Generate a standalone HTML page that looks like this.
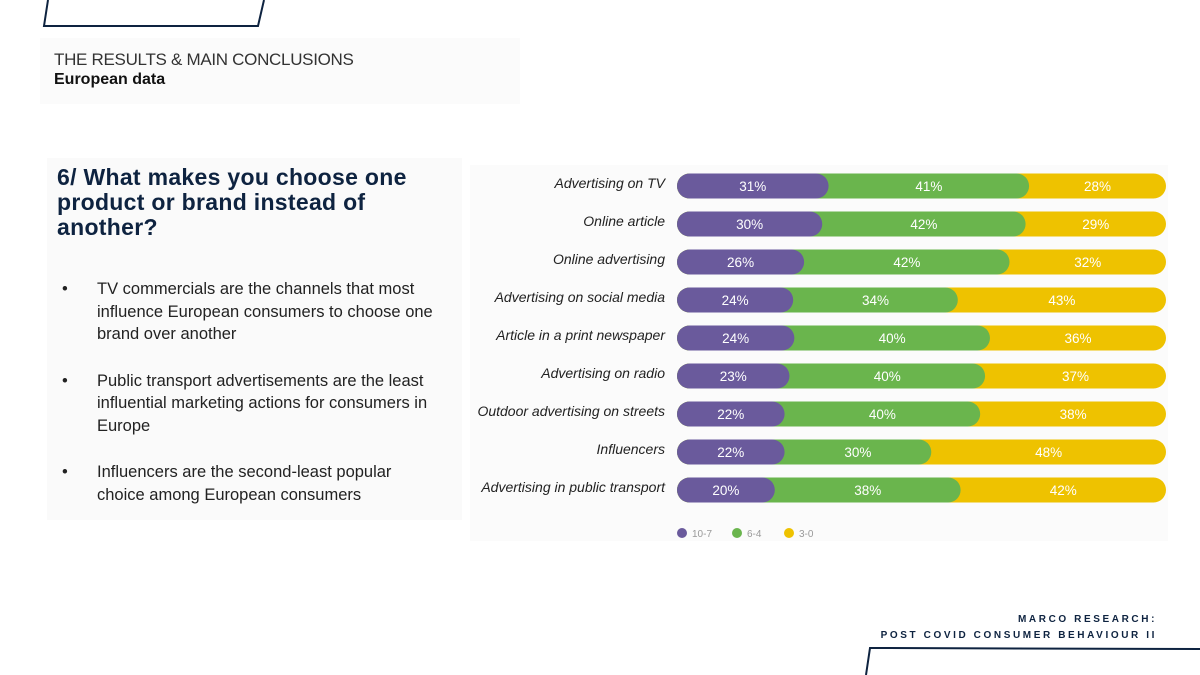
<!DOCTYPE html>
<html><head><meta charset="utf-8"><style>
body{margin:0;width:1200px;height:675px;background:#fff;position:relative;overflow:hidden;font-family:"Liberation Sans",sans-serif}
.abs{position:absolute}
</style></head><body>
<svg class="abs" style="left:0;top:0" width="1200" height="675">
<path d="M48,0 L44,26 L258,26 L264,0" fill="none" stroke="#0e2340" stroke-width="2"/>
<path d="M1200,649 L870,648 L866,675" fill="none" stroke="#0e2340" stroke-width="2"/>
</svg>
<div class="abs" style="left:40px;top:38px;width:480px;height:66px;background:#fbfbfb"></div>
<div class="abs" style="left:54px;top:50px;font-size:17px;color:#333;font-weight:300;letter-spacing:-0.3px">THE RESULTS &amp; MAIN CONCLUSIONS</div>
<div class="abs" style="left:54px;top:71px;font-size:16px;font-weight:bold;color:#111">European data</div>
<div class="abs" style="left:47px;top:158px;width:415px;height:362px;background:#fafafa"></div>
<div class="abs" style="left:57px;top:165px;width:400px;font-size:23px;font-weight:bold;color:#0e2340;line-height:25px;letter-spacing:0.3px">6/ What makes you choose one product or brand instead of another?</div>
<div class="abs" style="left:62px;top:278px;width:378px;font-size:16.5px;color:#222;line-height:22.5px">
<div style="position:relative;padding-left:35px;margin-bottom:24px"><span style="position:absolute;left:0">•</span>TV commercials are the channels that most influence European consumers to choose one brand over another</div>
<div style="position:relative;padding-left:35px;margin-bottom:24px"><span style="position:absolute;left:0">•</span>Public transport advertisements are the least influential marketing actions for consumers in Europe</div>
<div style="position:relative;padding-left:35px"><span style="position:absolute;left:0">•</span>Influencers are the second-least popular choice among European consumers</div>
</div>
<div class="abs" style="left:470px;top:165px;width:698px;height:376px;background:#fbfbfb"></div>
<svg id="chart" class="abs" style="left:0;top:0" width="1200" height="675"></svg>
<div class="abs" style="right:43px;top:612px;text-align:right;font-size:10px;font-weight:bold;letter-spacing:2.6px;color:#0e2340;line-height:16px">MARCO RESEARCH:<br>POST COVID CONSUMER BEHAVIOUR II</div>
<script>
const categories=["Advertising on TV","Online article","Online advertising","Advertising on social media","Article in a print newspaper","Advertising on radio","Outdoor advertising on streets","Influencers","Advertising in public transport"];
const high=[31,30,26,24,24,23,22,22,20];
const mid=[41,42,42,34,40,40,40,30,38];
const low=[28,29,32,43,36,37,38,48,42];
const seriesNames=["10-7","6-4","3-0"];
const colors=["#6a5a9c","#6ab54d","#eec200"];
const NS="http://www.w3.org/2000/svg";
const svg=document.getElementById('chart');
const x0=677,W=489,y0=186,step=38,bh=25;
function yC(i){return y0+i*step;}
function xS(frac){return x0+frac*W;}
function mk(t,a){const e=document.createElementNS(NS,t);for(const k in a)e.setAttribute(k,a[k]);svg.appendChild(e);return e;}
categories.forEach((c,i)=>{
  const tot=high[i]+mid[i]+low[i];
  const vals=[high[i],mid[i],low[i]];
  const yc=yC(i);
  const lab=mk('text',{x:665,y:yc+2,'text-anchor':'end','font-size':14,'font-style':'italic',fill:'#222','font-family':'Liberation Sans, sans-serif'});
  lab.textContent=c;
  
  
  const cum=[vals[0],vals[0]+vals[1],vals[0]+vals[1]+vals[2]];
  for(let s=2;s>=0;s--){
    const r=mk('rect',{x:x0,y:yc-bh/2,width:xS(cum[s]/tot)-x0,height:bh,rx:bh/2,fill:colors[s]});
    
    
  }
  let start=0;
  for(let s=0;s<3;s++){
    const m=xS((start+vals[s]/2)/tot);
    const t=mk('text',{x:m,y:yc+5,'text-anchor':'middle','font-size':13.5,fill:'#fff','font-family':'Liberation Sans, sans-serif'});
    t.textContent=vals[s]+'%';
    
    
    start+=vals[s];
  }
});
const lx=[682,737,789];
seriesNames.forEach((n,s)=>{
  const c=mk('circle',{cx:lx[s],cy:533,r:5,fill:colors[s]});
  
  
  const t=mk('text',{x:lx[s]+10,y:537,'font-size':10,fill:'#999','font-family':'Liberation Sans, sans-serif'});
  t.textContent=n;
  
  
});
</script>
</body></html>
